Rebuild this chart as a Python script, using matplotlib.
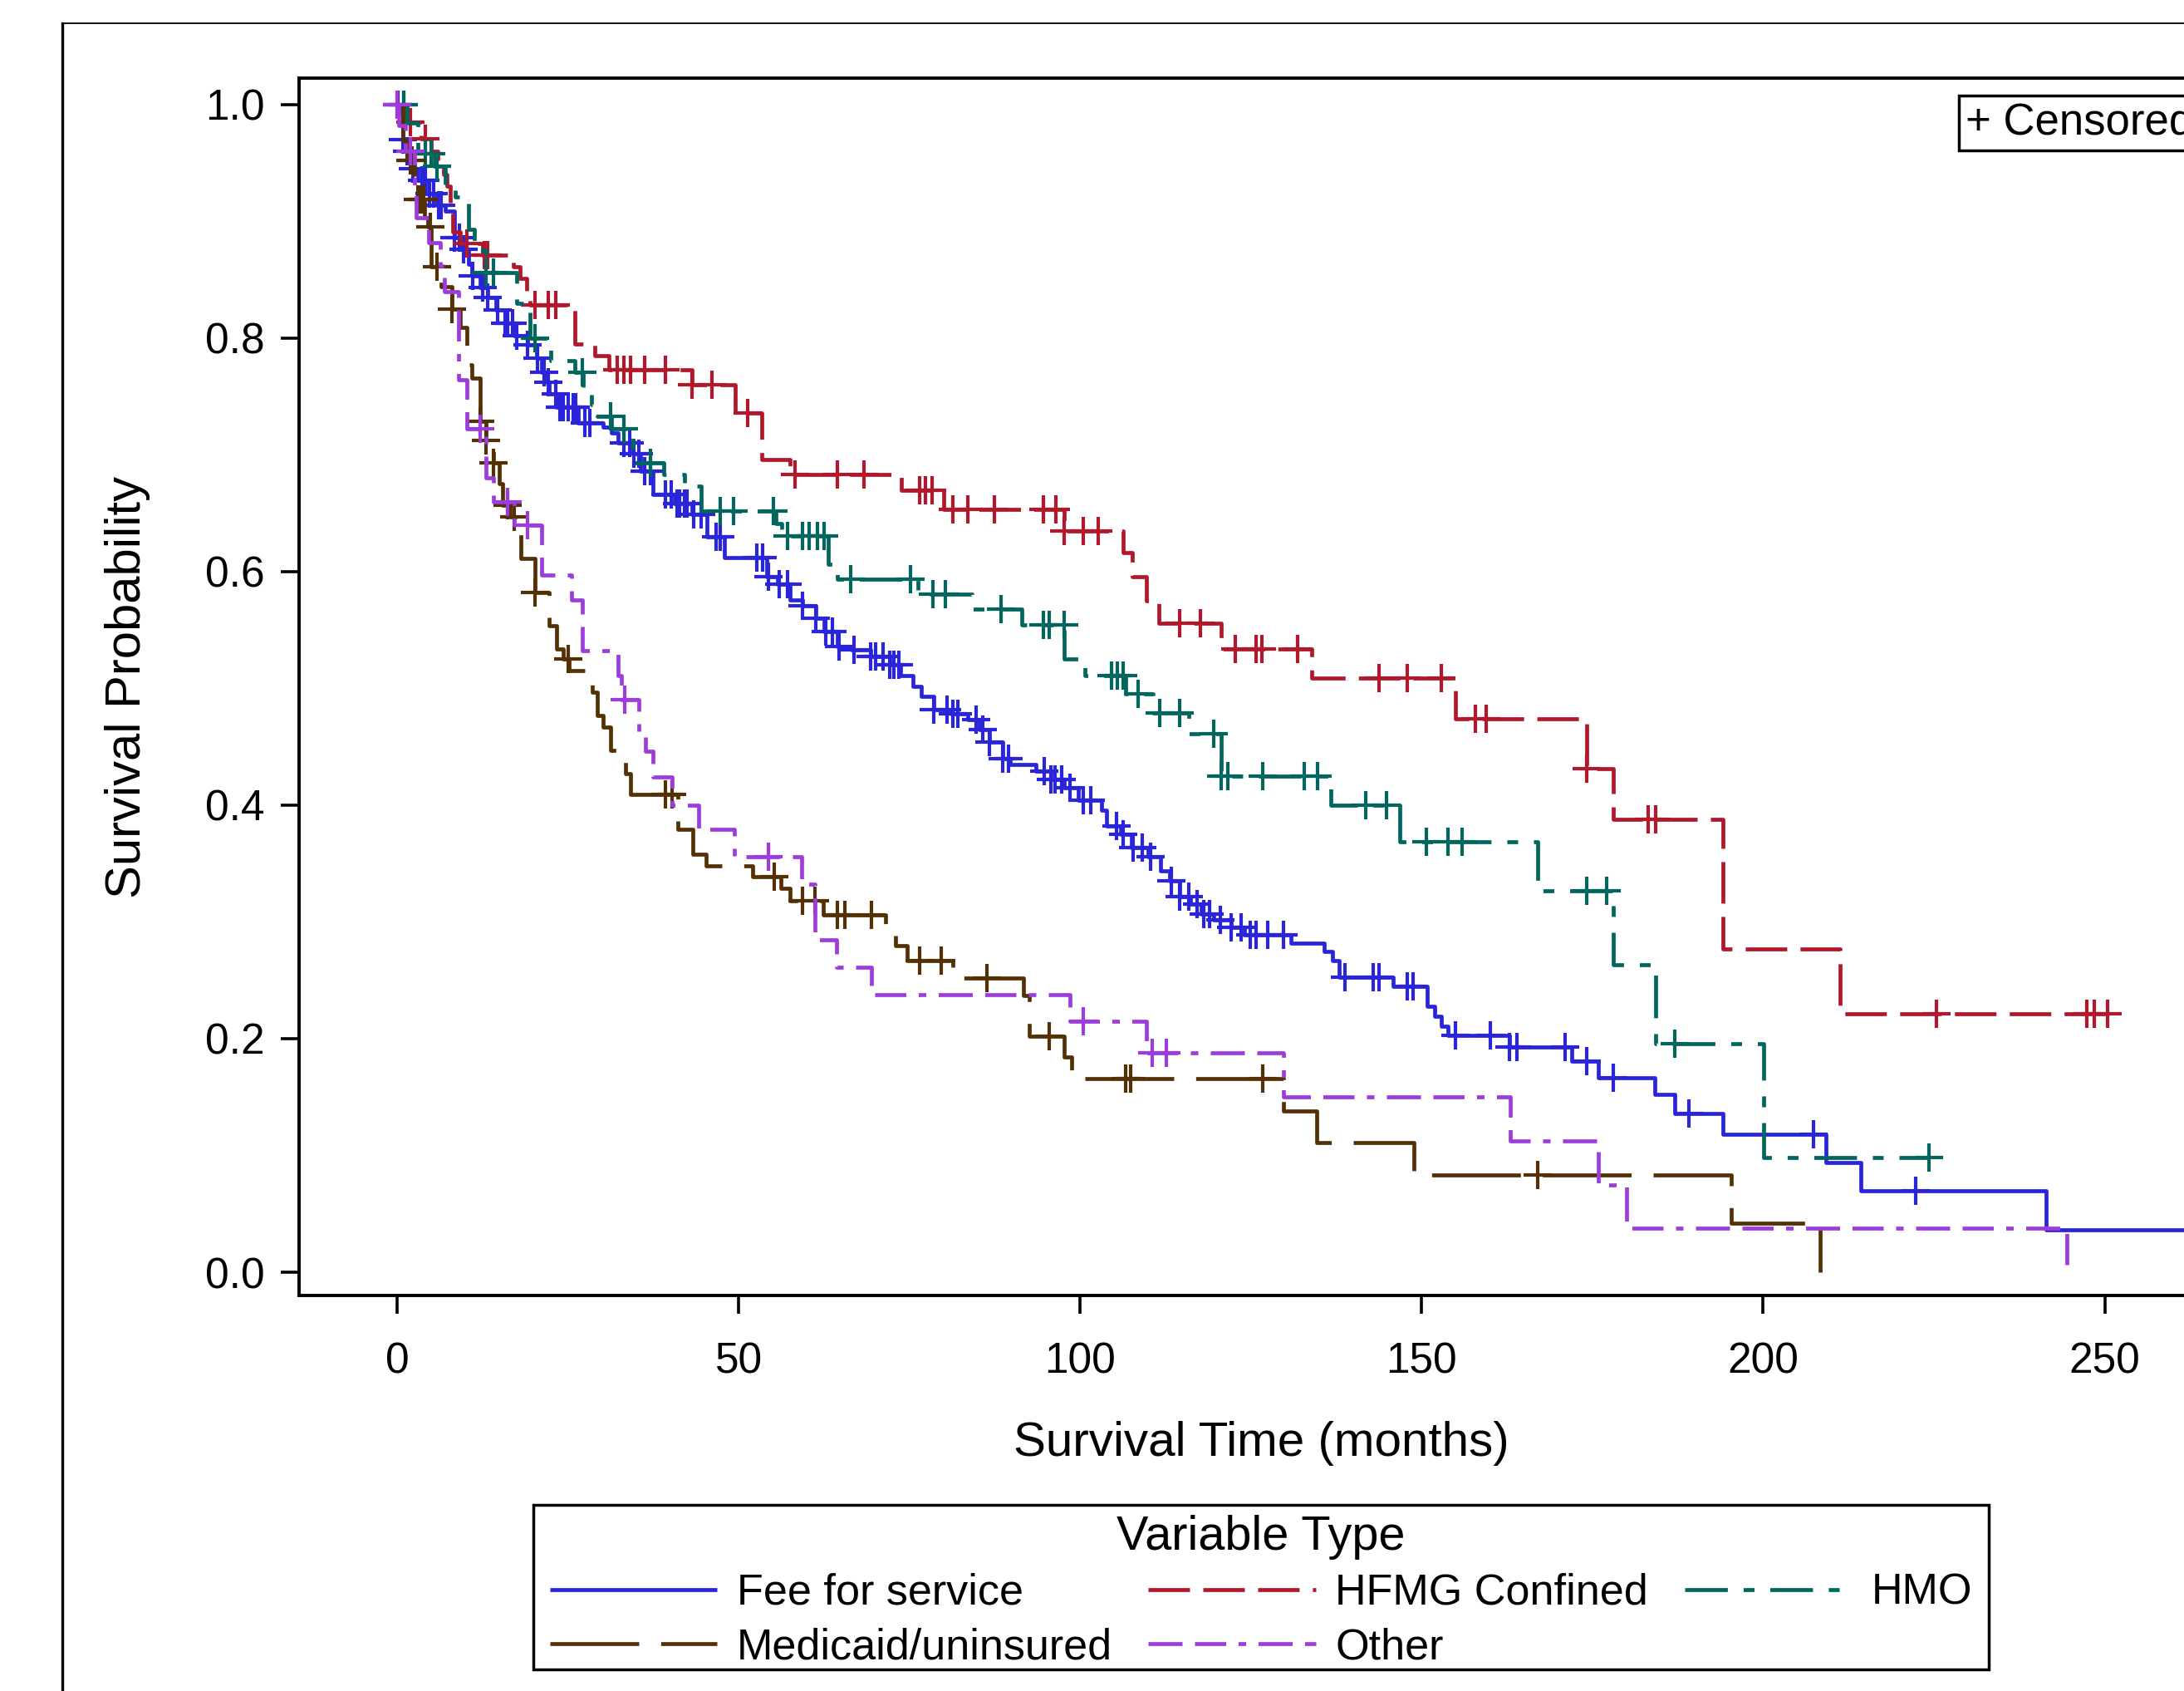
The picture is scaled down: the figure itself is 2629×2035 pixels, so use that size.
import numpy as np
import matplotlib
matplotlib.use("Agg")
import matplotlib.pyplot as plt
from matplotlib.lines import Line2D
from matplotlib.patches import Rectangle

plt.rcParams["font.family"] = ["Liberation Sans", "DejaVu Sans"]
plt.rcParams["lines.scale_dashes"] = False

# Kaplan-Meier steps: event time (months) -> survival after it
ffs_time = [0, 0.4, 0.8, 1.25, 2.3, 3.0, 4.1, 5.8, 7.1, 8.4, 9.3, 10.4, 11.0, 12.1, 13.2, 14.5,
            15.8, 17.1, 19.1, 20.4, 21.2, 21.9, 22.3, 23.4, 26.5, 30.1, 31.4, 32.3, 34.5, 35.6,
            37.5, 40.6, 43.2, 45.4, 47.9, 54.1, 55.7, 57.5, 59.4, 61.3, 62.5, 64.4, 66.5, 69.3,
            72.1, 73.7, 75.5, 76.8, 78.6, 81.1, 83.6, 85.2, 86.7, 88.6, 89.8, 93.5, 95.7, 97.6,
            99.7, 103.1, 103.8, 105.9, 107.5, 110, 111.8, 113.1, 114.6, 116.2, 117.7, 119.6,
            122.1, 124, 130.8, 135.7, 137, 137.9, 145.8, 150.8, 151.9, 152.9, 153.8, 162.8,
            172, 175.9, 184.1, 187, 194.1, 209.2, 214.3, 241.4]
ffs_surv = [1.0, 0.993, 0.97, 0.96, 0.945, 0.935, 0.924, 0.914, 0.909, 0.886, 0.876, 0.863, 0.853,
            0.843, 0.835, 0.824, 0.813, 0.802, 0.794, 0.783, 0.771, 0.762, 0.752, 0.741, 0.727,
            0.724, 0.719, 0.710, 0.701, 0.686, 0.666, 0.658, 0.649, 0.630, 0.612, 0.596, 0.589,
            0.576, 0.571, 0.560, 0.549, 0.536, 0.533, 0.527, 0.520, 0.511, 0.502, 0.493, 0.482,
            0.478, 0.473, 0.465, 0.454, 0.440, 0.435, 0.429, 0.422, 0.415, 0.404, 0.396, 0.382,
            0.375, 0.364, 0.356, 0.344, 0.335, 0.322, 0.315, 0.307, 0.302, 0.295, 0.289, 0.282,
            0.275, 0.267, 0.253, 0.245, 0.228, 0.219, 0.211, 0.203, 0.193, 0.181, 0.1666, 0.152,
            0.136, 0.118, 0.094, 0.070, 0.036]
ffs_end = 265
ffs_cens = [0.17, 0.82, 1.47, 2.34, 3.64, 4.08, 4.73, 5.38, 6.03, 6.47, 8.42, 9.07, 9.73, 11.03,
            12.55, 13.2, 14.7, 15.8, 16.2, 16.9, 17.5, 19.1, 20.6, 21.5, 22.1, 23.2, 23.8, 24.3,
            25.1, 25.8, 26.2, 27.5, 28.2, 33.2, 34.0, 34.7, 35.4, 36.2, 37.1, 39.3, 40.1, 41.0,
            41.4, 42.1, 42.5, 43.4, 44.5, 46.7, 47.3, 52.6, 53.5, 54.4, 56, 57.2, 59.4, 61.3,
            62.8, 63.7, 64.7, 66.9, 69.3, 70, 71.2, 72.1, 72.7, 73.4, 78.6, 80.5, 81.4, 82.1,
            84.8, 85.8, 86.7, 88.6, 89.5, 94.8, 95.7, 96.3, 97.3, 98.5, 100.4, 101.6, 105.3,
            106.3, 107.8, 109.1, 110.3, 113.4, 114.6, 115.9, 117.1, 118.1, 119, 120.5, 122.1,
            123.6, 124.9, 125.8, 127.4, 129.8, 138.8, 142.9, 143.8, 147.9, 148.7, 155, 160,
            162.8, 164, 171, 174.1, 178.1, 189.1, 207.3, 222.3]

hfmg_time = [0, 1.5, 3.5, 5, 6, 6.8, 7.3, 7.8, 8.2, 9.3, 12.5, 17, 18, 19, 19.5, 26, 29, 31,
             43.2, 49.5, 53.4, 57.5, 73.8, 80, 97.6, 106.3, 107.6, 109.7, 111.5, 120.7, 133.9,
             155, 174.1, 178.1, 194.1, 211.3]
hfmg_surv = [1.0, 0.985, 0.971, 0.96, 0.95, 0.94, 0.93, 0.909, 0.891, 0.881, 0.871, 0.861, 0.851,
             0.84, 0.828, 0.795, 0.785, 0.773, 0.76, 0.736, 0.696, 0.683, 0.6695, 0.653, 0.635,
             0.616, 0.596, 0.575, 0.556, 0.534, 0.509, 0.474, 0.431, 0.388, 0.277, 0.221]
hfmg_end = 250.4
hfmg_cens = [1.0, 1.9, 4.1, 10.2, 12.8, 13.2, 20.2, 22.1, 23.2, 32.2, 33.2, 34.2, 36.2, 39.3,
             43.2, 46.1, 51.3, 58.3, 64.5, 68.3, 76.5, 77.4, 78.3, 81.4, 83.5, 87.5, 94.6, 96.5,
             97.6, 100.5, 102.6, 114.6, 117.6, 122.7, 125.7, 126.6, 131.8, 143.8, 147.9, 152.9,
             157.9, 159.5, 174.1, 183.2, 184.2, 225.3, 247.4, 248.5, 250.4]

hmo_time = [0, 1.5, 3, 5.5, 7, 8.5, 10.5, 11.3, 13, 17.5, 19.5, 22.5, 26, 27.3, 28.5, 29.3, 31.4,
            34.5, 39, 42.1, 44.5, 55.4, 56.3, 63.1, 64.4, 76.3, 84.2, 91.5, 97.7, 100.7, 106.7,
            110.7, 115.9, 120.7, 136.7, 146.8, 167, 178.1, 184.2, 200.1]
hmo_surv = [1.0, 0.984, 0.958, 0.947, 0.93, 0.921, 0.893, 0.875, 0.856, 0.83, 0.80, 0.781, 0.771,
            0.752, 0.743, 0.733, 0.722, 0.693, 0.683, 0.673, 0.652, 0.6415, 0.6306, 0.606, 0.5935,
            0.581, 0.568, 0.5545, 0.525, 0.511, 0.4955, 0.479, 0.461, 0.4247, 0.40, 0.369, 0.327,
            0.263, 0.196, 0.098]
hmo_end = 224.3
hmo_cens = [1.0, 4.1, 5.0, 5.8, 13.0, 14.1, 20.2, 27.1, 31.2, 33.2, 37.1, 47.3, 49.3, 55.1,
            57.2, 59.3, 60.3, 61.5, 62.5, 66.4, 75.2, 78.4, 80.3, 88.4, 94.6, 95.5, 97.6, 104.6,
            105.4, 106.3, 108.5, 111.7, 114.6, 119.6, 120.7, 121.6, 126.7, 132.8, 134.8, 141.8,
            144.9, 150.7, 153.9, 155.9, 174.1, 177.1, 187.1, 224.3]

mcd_time = [0, 0.8, 1.5, 2.5, 3, 4, 4.5, 5, 6.5, 8, 9.2, 10.2, 11, 12.1, 13, 14.1, 14.9, 15.4,
            16.5, 18.1, 20.2, 22.2, 23.3, 24.3, 25.2, 28.6, 29.3, 30.1, 31.2, 33.4, 34.2, 41.1,
            43.3, 45.3, 52.1, 56.2, 57.5, 62.4, 71.5, 73, 74.7, 81.4, 91.7, 92.6, 97.6, 98.8,
            129.8, 134.6, 148.8, 195.3, 208.3]
mcd_surv = [1.0, 0.969, 0.952, 0.937, 0.919, 0.903, 0.895, 0.861, 0.844, 0.825, 0.809, 0.777,
            0.766, 0.729, 0.712, 0.693, 0.675, 0.657, 0.647, 0.611, 0.582, 0.554, 0.534, 0.525,
            0.515, 0.497, 0.477, 0.467, 0.447, 0.427, 0.409, 0.379, 0.358, 0.348, 0.339, 0.329,
            0.318, 0.306, 0.293, 0.280, 0.267, 0.252, 0.237, 0.202, 0.184, 0.166, 0.138, 0.111,
            0.083, 0.042, 0.0]
mcd_end = 208.3
mcd_cens = [0.0, 2.0, 2.2, 3.0, 3.4, 3.9, 4.9, 5.8, 8.0, 12.1, 13.0, 14.1, 16.2, 17.1, 20.2,
            25.1, 39.3, 40.3, 55.2, 59.3, 61.2, 64.4, 65.5, 69.5, 76.5, 79.6, 86.4, 95.5, 106.6,
            107.4, 126.7, 167.0]

oth_time = [0, 0.3, 1.2, 2.5, 2.8, 4.6, 6.3, 6.9, 9.0, 10.2, 13.0, 14.1, 17.1, 21.1, 25.5, 27.1,
            32.3, 32.8, 35.4, 36.4, 37.4, 40.3, 44.2, 49.4, 59.2, 61.2, 64.3, 69.5, 98.5, 109.7,
            129.8, 163, 175.9, 180, 244.4]
oth_surv = [1.0, 0.982, 0.96, 0.93, 0.903, 0.882, 0.862, 0.84, 0.764, 0.722, 0.68, 0.66, 0.64,
            0.597, 0.576, 0.532, 0.511, 0.49, 0.463, 0.446, 0.424, 0.40, 0.379, 0.356, 0.332,
            0.285, 0.261, 0.238, 0.215, 0.188, 0.1505, 0.1126, 0.075, 0.038, 0.0]
oth_end = 244.4
oth_cens = [0.0, 1.9, 12.1, 16.2, 19.1, 33.3, 54.4, 100.5, 110.6, 112.6]

groups = [
    ("Fee for service", ffs_time, ffs_surv, ffs_end, ffs_cens, "#2A25D9", "-"),
    ("HFMG Confined", hfmg_time, hfmg_surv, hfmg_end, hfmg_cens, "#B2182B", (0, (36, 11.5))),
    ("HMO", hmo_time, hmo_surv, hmo_end, hmo_cens, "#01665E", (0, (37, 13.7, 9.4, 13.7))),
    ("Medicaid/uninsured", mcd_time, mcd_surv, mcd_end, mcd_cens, "#543005", (0, (77, 19))),
    ("Other", oth_time, oth_surv, oth_end, oth_cens, "#9D3CDB",
     (0, (29.5, 10.8, 27, 10.8, 6.5, 10.8))),
]

fig = plt.figure(figsize=(26.29, 20.35), dpi=100)
ax = fig.add_axes([0.1371, 0.2339, 0.8806, 0.7199])

handles = {}
for name, t, s, end, cens, color, ls in groups:
    t = np.asarray(t, float)
    s = np.asarray(s, float)
    x = np.r_[t, end]
    y = np.r_[s, s[-1]]
    ln, = ax.step(x, y, where="post", color=color, lw=3.4, ls=ls, solid_capstyle="butt")
    c = np.asarray(cens, float)
    cs = s[np.searchsorted(t, c, side="right") - 1]
    ax.plot(c, cs, ls="none", marker="+", ms=24, mew=3.0, color=color)
    handles[name] = ln

ax.set_xlim(-14.3, 267.26)
ax.set_ylim(-0.0199, 1.0226)
ax.set_xticks([0, 50, 100, 150, 200, 250])
ax.set_yticks([0.0, 0.2, 0.4, 0.6, 0.8, 1.0])
ax.set_yticklabels(["0.0", "0.2", "0.4", "0.6", "0.8", "1.0"])
ax.tick_params(axis="both", direction="out", length=16, width=2.6, labelsize=37)
ax.tick_params(axis="y", pad=14)
ax.tick_params(axis="x", pad=24)
for sp in ax.spines.values():
    sp.set_linewidth(2.8)

ax.set_xlabel("Survival Time (months)", fontsize=42, va="center")
ax.xaxis.set_label_coords(0.5, -0.1215)
ax.set_ylabel("Survival Probability", fontsize=43, va="center")
ax.yaxis.set_label_coords(-0.0892, 0.5)

# outer graph frame (cropped on the right and bottom)
fig.add_artist(Line2D([0.0285, 0.0285], [-0.1, 0.986], transform=fig.transFigure,
                      color="black", lw=2.4))
fig.add_artist(Line2D([0.0285, 1.1], [0.986, 0.986], transform=fig.transFigure,
                      color="black", lw=1.3))

fig.text(0.9000, 0.9273, "+ Censored", fontsize=38, ha="left", va="center",
         bbox=dict(boxstyle="square,pad=0.15", fc="white", ec="black", lw=2.5))

order = ["Fee for service", "Medicaid/uninsured", "HFMG Confined", "Other", "HMO"]
leg = fig.legend([handles[k] for k in order], order, ncol=3, loc="center",
                 bbox_to_anchor=(0.5774, 0.0590), title="Variable Type",
                 title_fontsize=41.5, fontsize=37.5, frameon=False,
                 handlelength=3.87, handletextpad=0.45,
                 columnspacing=0.84, borderpad=0.1, labelspacing=0.31)
# legend border drawn separately so its padding matches the original
fig.add_artist(Rectangle((0.2442, 0.0128), 0.6664, 0.0973, transform=fig.transFigure,
                         fill=False, ec="black", lw=2.5))

fig.savefig("out.png", dpi=100)
